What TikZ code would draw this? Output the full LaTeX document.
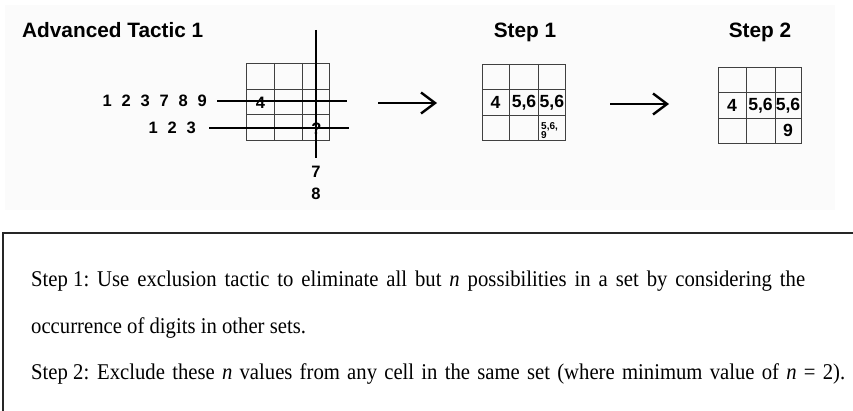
\documentclass[tikz,border=0pt]{standalone}
\usepackage{fontspec}
\setmainfont{Liberation Serif}[FakeStretch=0.92]
\newfontfamily\arialf{Liberation Sans}
\usetikzlibrary{arrows.meta}
\newcommand\dgp{\hspace{9.8pt}}
\begin{document}
\begin{tikzpicture}[x=1pt,y=-1pt,
  title/.style={font=\arialf\bfseries\fontsize{20.8}{22}\selectfont, inner sep=0, anchor=base},
  digit/.style={font=\arialf\bfseries\fontsize{16.5}{18}\selectfont, inner sep=0},
  cell/.style={font=\arialf\bfseries\fontsize{17.6}{18}\selectfont, inner sep=0},
  small/.style={font=\arialf\bfseries\fontsize{10}{9}\selectfont, inner sep=0, align=left, anchor=north west},
  gridline/.style={draw=black!75, line width=0.9pt},
  crossline/.style={line width=2.4pt},
  flow/.style={line width=2.4pt, -{Straight Barb[length=14pt,width=21pt]}},
  body/.style={font=\fontsize{22.5}{24}\selectfont, inner sep=0, anchor=base west}]
\useasboundingbox (0,0) rectangle (853,411);
\fill[black!1.5] (5,5) rectangle (835,210);

% titles
\node[title, anchor=base west] (t0) at (22,37.5) {Advanced Tactic 1};
\node[title] (t1) at (525,37.5) {Step 1};
\node[title] (t2) at (760,37.5) {Step 2};

% left grid
\draw[gridline] (246.5,63) rectangle (329.5,140);
\foreach \x in {274,302.5} \draw[gridline] (\x,63) -- (\x,140);
\foreach \y in {89,114} \draw[gridline] (246.5,\y) -- (329.5,\y);
\node[digit] (g4) at (260.5,102.5) {4};
\node[digit] (gq) at (316.5,129) {?};

% crossing lines
\coordinate (vtop) at (316,30);
\coordinate (vbot) at (316,158);
\coordinate (h1a) at (217,101);
\coordinate (h1b) at (347,101);
\coordinate (h2a) at (209,128);
\coordinate (h2b) at (349,128);
\draw[crossline] (vtop) -- (vbot);
\draw[crossline] (h1a) -- (h1b);
\draw[crossline] (h2a) -- (h2b);

\node[digit, anchor=east] (row1) at (207,101) {1\dgp2\dgp3\dgp7\dgp8\dgp9};
\node[digit, anchor=east] (row2) at (196,128) {1\dgp2\dgp3};
\node[digit] (c7) at (316,172) {7};
\node[digit] (c8) at (316,194) {8};

% step 1 grid
\draw[gridline] (482,64) rectangle (565,140);
\foreach \x in {509.5,538.5} \draw[gridline] (\x,64) -- (\x,140);
\foreach \y in {89.5,115.5} \draw[gridline] (482,\y) -- (565,\y);
\node[cell] (a4) at (495.5,102.5) {4};
\node[cell] (a56a) at (524,102.5) {5,6};
\node[cell] (a56b) at (551.8,102.5) {5,6};
\node[small] (a569) at (541,122.5) {5,6,\\9};

% step 2 grid
\draw[gridline] (718,67) rectangle (801,143.5);
\foreach \x in {746,775} \draw[gridline] (\x,67) -- (\x,143.5);
\foreach \y in {92.5,118} \draw[gridline] (718,\y) -- (801,\y);
\node[cell] (b4) at (732,105.3) {4};
\node[cell] (b56a) at (760.5,105.3) {5,6};
\node[cell] (b56b) at (788,105.3) {5,6};
\node[cell] (b9) at (788,130.8) {9};

% arrows
\coordinate (ar1s) at (378,103);
\coordinate (ar1e) at (437,103);
\coordinate (ar2s) at (610,104);
\coordinate (ar2e) at (669,104);
\draw[flow] (ar1s) -- (ar1e);
\draw[flow] (ar2s) -- (ar2e);

% bottom box
\draw[line width=1.6pt, draw=black!85] (3,411) -- (3,233) -- (853,233);
\node[body] (s1) at (31,287) {Step 1:};
\node[body] (s1t) at (97,287) {\makebox[708pt][s]{Use exclusion tactic to eliminate all but \textit{n} possibilities in a set by considering the}};
\node[body] (s1c) at (31,333) {occurrence of digits in other sets.};
\node[body] (s2) at (31,379) {Step 2:};
\node[body] (s2t) at (97,379) {\makebox[748pt][s]{Exclude these \textit{n} values from any cell in the same set (where minimum value of \textit{n} = 2).}};
\end{tikzpicture}
\end{document}
